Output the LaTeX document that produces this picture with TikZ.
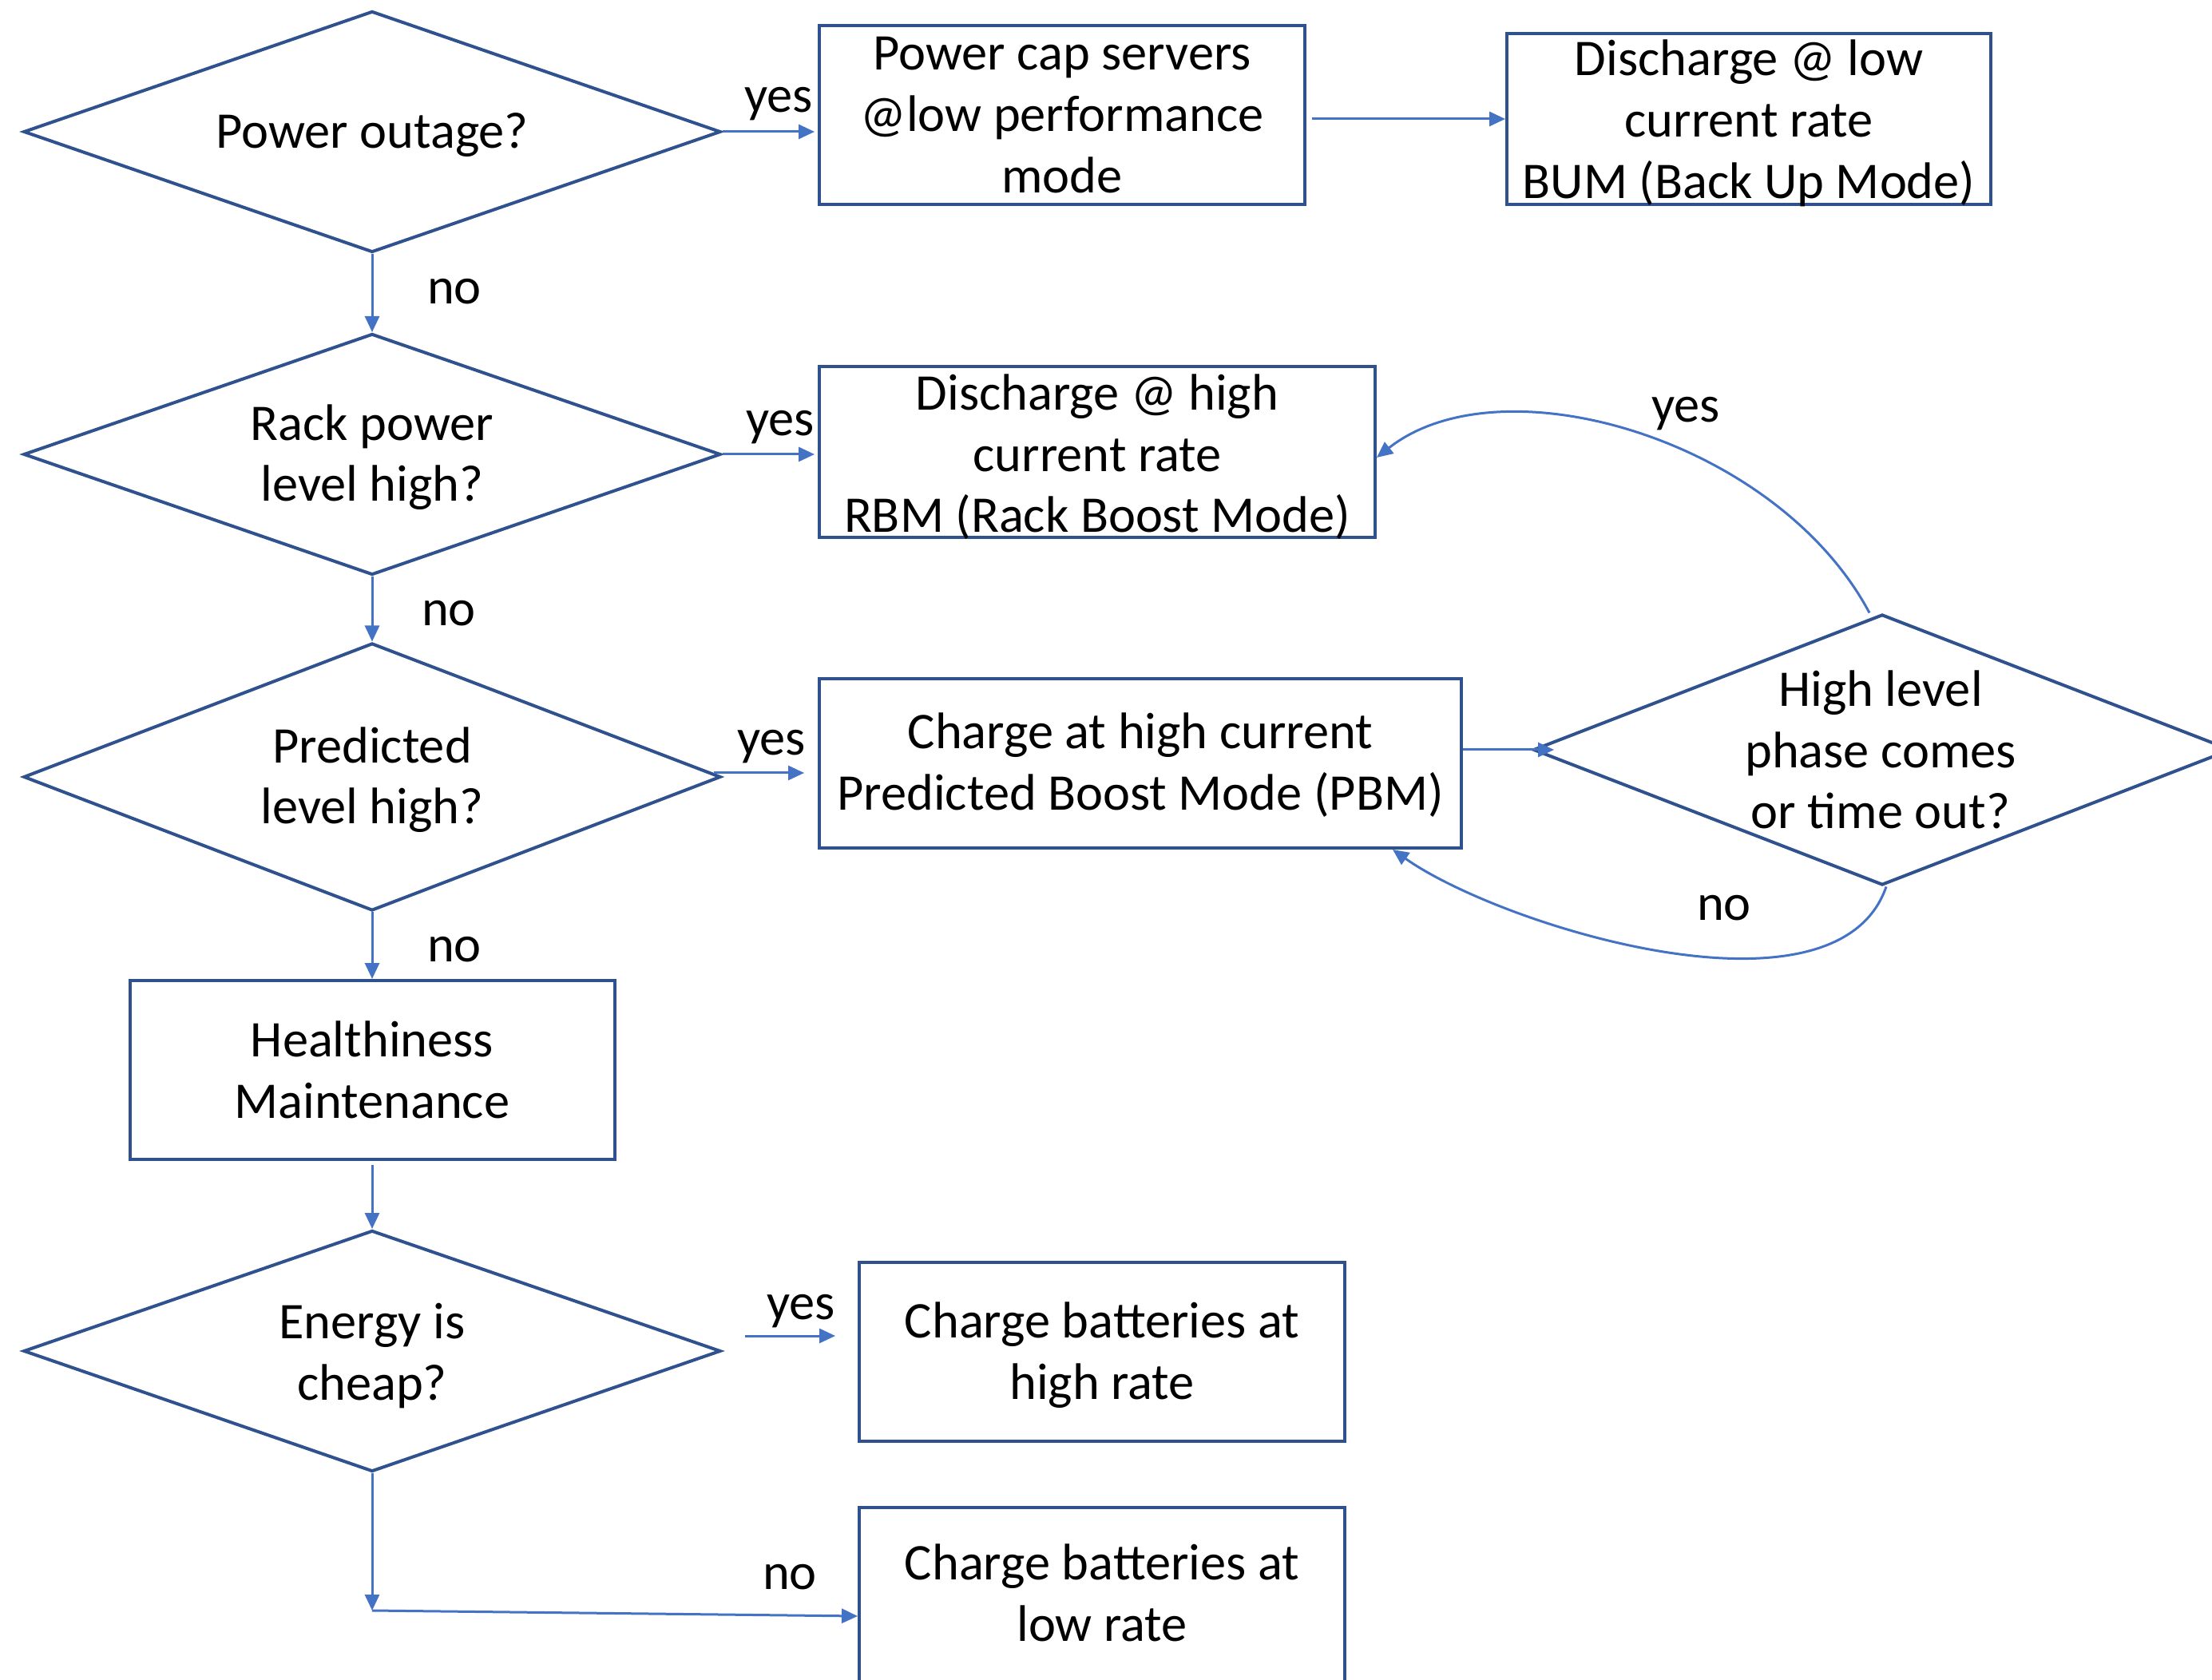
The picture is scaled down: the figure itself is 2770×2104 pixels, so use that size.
\documentclass[tikz,border=0pt]{standalone}
\usepackage{fontspec}
\setmainfont{Carlito}
\usetikzlibrary{shapes.geometric,arrows.meta}
\definecolor{boxline}{HTML}{2F528F}
\definecolor{conn}{HTML}{4472C4}
\begin{document}
\begin{tikzpicture}[x=0.25pt,y=-0.25pt,
  every node/.style={font=\fontsize{16.1pt}{19.2pt}\selectfont, text=black},
  box/.style={draw=boxline, line width=1pt, rectangle, inner sep=0pt},
  dec/.style={draw=boxline, line width=1pt, diamond, inner sep=0pt},
  txt/.style={align=center, inner sep=0pt},
  lbl/.style={inner sep=0pt},
  arr/.style={draw=conn, line width=0.75pt, -{Triangle[length=5pt,width=4.5pt]}},
]
\useasboundingbox (0,0) rectangle (2770,2104);
\clip (0,0) rectangle (2770,2104);

% decisions
\node[dec, minimum width=218.25pt, minimum height=75.5pt]  (d1) at (466,165)  {};
\node[dec, minimum width=218.25pt, minimum height=75.5pt]  (d2) at (466,569)  {};
\node[dec, minimum width=218.25pt, minimum height=83.75pt] (d3) at (466,973)  {};
\node[dec, minimum width=218.25pt, minimum height=75.5pt]  (d4) at (466,1692) {};
\node[dec, minimum width=218.5pt,  minimum height=84.75pt] (d5) at (2357,939) {};

\node[txt, yshift=-0.9pt]  (d1t) at (d1) {Power outage?};
\node[txt, yshift=-0.9pt]  (d2t) at (d2) {Rack power\\level high?};
\node[txt, yshift=-0.9pt]  (d3t) at (d3) {Predicted\\level high?};
\node[txt, yshift=-1.55pt] (d4t) at (d4) {Energy is\\cheap?};
\node[txt] (d5t) at (2355,939) {High level\\phase comes\\or time out?};

% actions
\node[box, minimum width=152pt,    minimum height=56pt]   (b1) at (1330,144)  {};
\node[box, minimum width=151.5pt,  minimum height=53.5pt] (b2) at (2190,149)  {};
\node[box, minimum width=174pt,    minimum height=53.5pt] (b3) at (1374,566)  {};
\node[box, minimum width=201pt,    minimum height=53pt]   (b4) at (1428,956)  {};
\node[box, minimum width=151.75pt, minimum height=56pt]   (b5) at (466,1340)  {};
\node[box, minimum width=152pt,    minimum height=56pt]   (b6) at (1380,1693) {};
\node[box, minimum width=152pt,    minimum height=56pt]   (b7) at (1380,2000) {};

\node[txt]                 (b1t) at (b1) {Power cap servers\\@low performance\\mode};
\node[txt, yshift=-1.3pt]  (b2t) at (b2) {Discharge @ low\\current rate\\BUM (Back Up Mode)};
\node[txt, yshift=-1.55pt] (b3t) at (b3) {Discharge @ high\\current rate\\RBM (Rack Boost Mode)};
\node[txt, yshift=-0.45pt] (b4t) at (b4) {Charge at high current\\Predicted Boost Mode (PBM)};
\node[txt]                 (b5t) at (b5) {Healthiness\\Maintenance};
\node[txt, yshift=-1.1pt]  (b6t) at (b6) {Charge batteries at\\high rate};
\node[txt, yshift=1.3pt]   (b7t) at (b7) {Charge batteries at\\low rate};

% connectors
\draw[arr, shorten >=1pt] (d1.east) -- (b1.west |- d1.east);
\draw[arr] ([xshift=1.75pt]b1.east |- b2.west) -- (b2.west);
\draw[arr] (d1.south) -- (d2.north);
\draw[arr, shorten >=1pt] (d2.east) -- (b3.west |- d2.east);
\draw[arr] (d2.south) -- (d3.north);
\draw[arr] ([xshift=-2.75pt,yshift=1.25pt]d3.east) -- ([xshift=-4.25pt,yshift=-3pt]b4.west);
\draw[arr] (d3.south) -- (b5.north);
\draw[arr] ([yshift=-1.25pt]b5.south) -- (d4.north);
\draw[arr] ([xshift=7pt,yshift=4.75pt]d4.east) -- ([xshift=-7pt,yshift=5pt]b6.west);
\coordinate (c4) at (466,2017);
\draw[arr] (d4.south) -- (c4);
\draw[arr] (c4) -- ([yshift=-6pt]b7.west);
\draw[arr] (b4.east |- d5.west) -- ([xshift=7pt]d5.west);
\draw[arr] ([xshift=-4pt]d5.north) .. controls (2225,550) and (1880,450) .. ([yshift=-1.75pt]b3.east);
\draw[arr] ([xshift=1.25pt]d5.south) .. controls (2300,1290) and (1880,1160) .. ([xshift=-22pt]b4.south east);

% branch labels
\node[lbl] (yes1) at (975,130)   {yes};
\node[lbl] (no1)  at (569,365)   {no};
\node[lbl] (yes2) at (977,535)   {yes};
\node[lbl] (no2)  at (562,768)   {no};
\node[lbl] (yes3) at (966,935)   {yes};
\node[lbl] (no3)  at (569,1189)  {no};
\node[lbl] (yes4) at (1003,1642) {yes};
\node[lbl] (no4)  at (989,1975)  {no};
\node[lbl] (yes5) at (2111,518)  {yes};
\node[lbl] (no5)  at (2159,1137) {no};
\end{tikzpicture}
\end{document}
